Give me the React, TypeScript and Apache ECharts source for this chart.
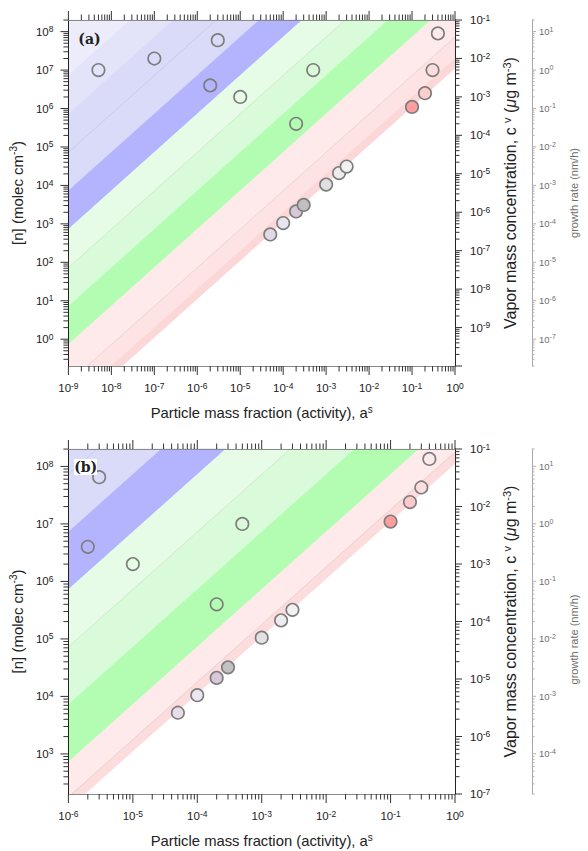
import React, { useEffect, useRef } from 'react';
import * as echarts from 'echarts';

// conversion factors between the three vertical scales
const VAPOR_PER_N = 4.98e-10; // µg m^-3 per molec cm^-3
const GR_PER_VAPOR = 200; // nm/h per µg m^-3

const xRangeA = [1e-9, 1];
const vaporRangeA = [1e-10, 1e-1];
const xRangeB = [1e-6, 1];
const vaporRangeB = [1e-7, 1e-1];

// panel (a) points
const actA = [5e-9, 1e-7, 3e-6, 2e-6, 1e-5, 2e-4, 5e-4, 0.4, 0.3, 0.2, 0.1, 5e-5, 1e-4, 2e-4, 3e-4, 1e-3, 2e-3, 3e-3];
const nA = [1e7, 2e7, 6e7, 4e6, 2e6, 4e5, 1e7, 9e7, 1e7, 2.5e6, 1.1e6, 5.3e2, 1.05e3, 2.1e3, 3.1e3, 1.05e4, 2.1e4, 3.1e4];
const fillA = [
  'rgba(0,0,0,0)', 'rgba(0,0,0,0)', 'rgba(0,0,0,0)', 'rgba(0,0,0,0)', 'rgba(0,0,0,0)', 'rgba(0,0,0,0)', 'rgba(0,0,0,0)',
  'rgba(0,0,0,0)', '#fcdcdc', '#fccfcf', '#ff9e9e',
  '#e2d9e6', '#e9e5ee', '#d7c9da', '#c0c0c0', '#e0e0e0', '#ececec', '#f2f2f2',
];

// panel (b) points
const actB = [3e-6, 2e-6, 1e-5, 5e-4, 2e-4, 0.4, 0.3, 0.2, 0.1, 5e-5, 1e-4, 2e-4, 3e-4, 1e-3, 2e-3, 3e-3];
const nB = [6.5e7, 4e6, 2e6, 1e7, 4e5, 1.35e8, 4.3e7, 2.4e7, 1.1e7, 5.2e3, 1.05e4, 2.1e4, 3.2e4, 1.05e5, 2.1e5, 3.2e5];
const fillB = [
  'rgba(0,0,0,0)', 'rgba(0,0,0,0)', 'rgba(0,0,0,0)', 'rgba(0,0,0,0)', 'rgba(0,0,0,0)',
  'rgba(0,0,0,0)', '#fbdede', '#fccaca', '#ff9e9e',
  '#e6dcea', '#ebe6ef', '#d8c8dc', '#c2c2c2', '#e2e2e2', '#ededed', '#f2f2f2',
];

// band boundaries, log10([n]/a)
const bandUpperA = [30, 15.86, 14.86, 12.86, 11.86, 10.86, 9.86, 8.86, 7.86, 7.3];
const bandLowerA = [15.86, 14.86, 12.86, 11.86, 10.86, 9.86, 8.86, 7.86, 7.3, 7.05];
const bandColorA = ['#ececfb', '#e3e3fa', '#dadaf9', '#b3b3fe', '#e6fce6', '#dafbda', '#b3fdb3', '#feeaea', '#fde3e3', '#fbd7d7'];
const faintLinesA = [13.86, 10.86, 7.86];

const bandUpperB = [30, 15.86, 14.86, 12.86, 11.86, 10.86, 9.86, 8.86, 8.25];
const bandLowerB = [15.86, 14.86, 12.86, 11.86, 10.86, 9.86, 8.86, 8.25, 8.05];
const bandColorB = ['#ececfb', '#e3e3fa', '#dadaf9', '#b3b3fe', '#e6fce6', '#dafbda', '#b3fdb3', '#feeaea', '#fcdcdc'];
const faintLinesB = [13.86, 10.86, 8.25];

const FONT = 'Liberation Sans, Arial, sans-serif';

function clipHalf(poly: number[][], f: (p: number[]) => number) {
  const out: number[][] = [];
  const n = poly.length;
  for (let i = 0; i < n; i++) {
    const cur = poly[i];
    const prev = poly[(i - 1 + n) % n];
    const fc = f(cur);
    const fp = f(prev);
    const inter = () => {
      const t = fp / (fp - fc);
      return [prev[0] + t * (cur[0] - prev[0]), prev[1] + t * (cur[1] - prev[1])];
    };
    if (fc >= 0) {
      if (fp < 0) out.push(inter());
      out.push(cur);
    } else if (fp >= 0) {
      out.push(inter());
    }
  }
  return out;
}

function bandSeries(xIdx: number, yIdx: number, xr: number[], yr: number[], uppers: number[], lowers: number[], colors: string[], lines: number[]) {
  return {
    type: 'custom',
    xAxisIndex: xIdx,
    yAxisIndex: yIdx,
    silent: true,
    z: 1,
    data: [[xr[0], yr[0]]],
    renderItem: (params: any, api: any) => {
      const lx0 = Math.log10(xr[0]), lx1 = Math.log10(xr[1]);
      const ly0 = Math.log10(yr[0]), ly1 = Math.log10(yr[1]);
      const rect = [[lx0, ly0], [lx1, ly0], [lx1, ly1], [lx0, ly1]];
      const toPx = (p: number[]) => api.coord([Math.pow(10, p[0]), Math.pow(10, p[1])]);
      const children: any[] = [];
      uppers.forEach((u, i) => {
        let poly = clipHalf(rect, (p) => u - (p[1] - p[0]));
        poly = clipHalf(poly, (p) => p[1] - p[0] - lowers[i]);
        if (poly.length >= 3) {
          children.push({
            type: 'polygon',
            shape: { points: poly.map(toPx) },
            style: { fill: colors[i], stroke: colors[i], lineWidth: 0.6 },
          });
        }
      });
      lines.forEach((d) => {
        const s = Math.max(lx0, ly0 - d);
        const e = Math.min(lx1, ly1 - d);
        if (s < e) {
          children.push({
            type: 'polyline',
            shape: { points: [toPx([s, s + d]), toPx([e, e + d])] },
            style: { stroke: 'rgba(0,0,0,0.07)', lineWidth: 1, fill: 'none' },
          });
        }
      });
      return { type: 'group', children };
    },
  };
}

function logTicks(min: number, max: number) {
  const out: number[][] = [];
  for (let k = Math.floor(Math.log10(min)) - 1; k <= Math.ceil(Math.log10(max)); k++) {
    for (let m = 1; m <= 9; m++) {
      const v = m * Math.pow(10, k);
      if (v >= min * (1 - 1e-9) && v <= max * (1 + 1e-9)) out.push([v, m === 1 ? 1 : 0]);
    }
  }
  return out;
}

function tickSeries(xIdx: number, yIdx: number, side: string, range: number[], ref: number, len: number[], color: string, offset = 0) {
  const ticks = logTicks(range[0], range[1]);
  const horizontal = side === 'bottom' || side === 'top';
  return {
    type: 'custom',
    xAxisIndex: xIdx,
    yAxisIndex: yIdx,
    silent: true,
    clip: false,
    z: 6,
    data: ticks.map((t) => (horizontal ? [t[0], ref, t[1]] : [ref, t[0], t[1]])),
    renderItem: (params: any, api: any) => {
      const cs = params.coordSys;
      const L = api.value(2) === 1 ? len[0] : len[1];
      const p = api.coord([api.value(0), api.value(1)]);
      let x1, y1, x2, y2;
      if (side === 'bottom') {
        x1 = x2 = p[0]; y1 = cs.y + cs.height; y2 = y1 + L;
      } else if (side === 'top') {
        x1 = x2 = p[0]; y1 = cs.y; y2 = y1 - L;
      } else if (side === 'left') {
        y1 = y2 = p[1]; x1 = cs.x; x2 = x1 - L;
      } else {
        y1 = y2 = p[1]; x1 = cs.x + cs.width + offset; x2 = x1 + L;
      }
      return { type: 'line', shape: { x1, y1, x2, y2 }, style: { stroke: color, lineWidth: 1 } };
    },
  };
}

const decadeFmt = (v: number) => {
  const l = Math.log10(v);
  const e = Math.round(l);
  if (Math.abs(l - e) > 1e-6) return '';
  return `{b|10}{s|${e}}`;
};

const darkRich = {
  b: { fontSize: 11.5, lineHeight: 14, color: '#222', fontFamily: FONT },
  s: { fontSize: 8.5, lineHeight: 6, verticalAlign: 'top', color: '#222', fontFamily: FONT },
};
const grayRich = {
  b: { fontSize: 9.5, lineHeight: 12, color: '#6e6e6e', fontFamily: FONT },
  s: { fontSize: 7, lineHeight: 5, verticalAlign: 'top', color: '#6e6e6e', fontFamily: FONT },
};

function xAxes(grid: number, xr: number[]) {
  return [
    {
      gridIndex: grid, type: 'log', position: 'bottom', min: xr[0], max: xr[1], z: 5,
      axisLine: { show: true, onZero: false, lineStyle: { color: '#8a8a8a', width: 1 } },
      axisTick: { show: false }, splitLine: { show: false }, minorTick: { show: false },
      axisLabel: { formatter: decadeFmt, rich: darkRich, margin: 15 },
      name: '{t|Particle mass fraction (activity), a}{s|s}',
      nameLocation: 'middle', nameGap: 38,
      nameTextStyle: {
        rich: {
          t: { fontSize: 14.8, lineHeight: 18, color: '#222', fontFamily: FONT },
          s: { fontSize: 10, lineHeight: 8, verticalAlign: 'top', color: '#222', fontFamily: FONT },
        },
      },
    },
    {
      gridIndex: grid, type: 'log', position: 'top', min: xr[0], max: xr[1], z: 5,
      axisLine: { show: true, onZero: false, lineStyle: { color: '#8a8a8a', width: 1 } },
      axisTick: { show: false }, splitLine: { show: false }, axisLabel: { show: false },
    },
  ];
}

function yAxes(grid: number, vr: number[], grOffset: number, grPad: number[]) {
  const nr = vr.map((v) => v / VAPOR_PER_N);
  const gr = vr.map((v) => v * GR_PER_VAPOR);
  return [
    {
      gridIndex: grid, type: 'log', position: 'left', min: nr[0], max: nr[1], z: 5,
      axisLine: { show: true, onZero: false, lineStyle: { color: '#222', width: 1 } },
      axisTick: { show: false }, splitLine: { show: false },
      axisLabel: { formatter: decadeFmt, rich: darkRich, margin: 15 },
      name: '{t|[n] (molec cm}{s|-3}{t|)}',
      nameLocation: 'middle', nameRotate: 90, nameGap: 31,
      nameTextStyle: {
        rich: {
          t: { fontSize: 15, lineHeight: 19, color: '#222', fontFamily: FONT },
          s: { fontSize: 10, lineHeight: 8, verticalAlign: 'top', color: '#222', fontFamily: FONT },
        },
      },
    },
    {
      gridIndex: grid, type: 'log', position: 'right', min: vr[0], max: vr[1], z: 5,
      axisLine: { show: true, onZero: false, lineStyle: { color: '#222', width: 1 } },
      axisTick: { show: false }, splitLine: { show: false },
      axisLabel: { formatter: decadeFmt, rich: darkRich, margin: 15, showMinLabel: grid === 1 },
      name: '{t|Vapor mass concentration, c }{s|v}{t| (}{i|μ}{t|g m}{s|-3}{t|)}',
      nameLocation: 'middle', nameRotate: 90, nameGap: 45,
      nameTextStyle: {
        rich: {
          t: { fontSize: 16, lineHeight: 19, color: '#222', fontFamily: FONT },
          i: { fontSize: 16, lineHeight: 19, color: '#222', fontFamily: FONT, fontStyle: 'italic' },
          s: { fontSize: 11, lineHeight: 8, verticalAlign: 'top', color: '#222', fontFamily: FONT },
        },
      },
    },
    {
      gridIndex: grid, type: 'log', position: 'right', offset: grOffset, min: gr[0], max: gr[1], z: 5,
      axisLine: { show: true, onZero: false, lineStyle: { color: '#a8a8a8', width: 1 } },
      axisTick: { show: false }, splitLine: { show: false },
      axisLabel: { formatter: decadeFmt, rich: grayRich, margin: 7 },
      name: 'growth rate (nm/h)',
      nameLocation: 'middle', nameRotate: 90, nameGap: 35,
      nameTextStyle: { fontSize: 11, lineHeight: 13, color: '#6e6e6e', fontFamily: FONT, padding: grPad },
    },
  ];
}

function scatterSeries(xIdx: number, yIdx: number, act: number[], n: number[], fills: string[]) {
  return {
    type: 'scatter', xAxisIndex: xIdx, yAxisIndex: yIdx, z: 3, silent: true,
    symbol: 'circle', symbolSize: 12.5,
    itemStyle: { borderColor: '#7d7d7d', borderWidth: 1.6, opacity: 1 },
    data: act.map((a, i) => ({ value: [a, n[i]], itemStyle: { color: fills[i] } })),
  };
}

const GR_OFFSET = 77;

function buildOption() {
  const nrA = vaporRangeA.map((v) => v / VAPOR_PER_N);
  const nrB = vaporRangeB.map((v) => v / VAPOR_PER_N);
  const grA = vaporRangeA.map((v) => v * GR_PER_VAPOR);
  const grB = vaporRangeB.map((v) => v * GR_PER_VAPOR);
  const tickDark = '#333';
  return {
    animation: false,
    backgroundColor: '#fff',
    grid: [
      { left: 66, top: 20, width: 401, height: 346 },
      { left: 62, top: 449, width: 401, height: 345 },
    ],
    xAxis: [...xAxes(0, xRangeA), ...xAxes(1, xRangeB)],
    yAxis: [...yAxes(0, vaporRangeA, GR_OFFSET, [0, 0, 0, 0]), ...yAxes(1, vaporRangeB, GR_OFFSET, [0, 36, 0, 0])],
    graphic: [
      {
        type: 'text', x: 89.5, y: 38.5, z: 10,
        style: { text: '(a)', font: 'bold 14px "DejaVu Serif", serif', fill: '#222', align: 'center', verticalAlign: 'middle' },
      },
      { type: 'rect', shape: { x: 74, y: 459, width: 23, height: 16 }, style: { fill: '#fff' }, z: 9 },
      {
        type: 'text', x: 85.7, y: 467, z: 10,
        style: { text: '(b)', font: 'bold 14px "DejaVu Serif", serif', fill: '#222', align: 'center', verticalAlign: 'middle' },
      },
    ],
    series: [
      bandSeries(0, 0, xRangeA, nrA, bandUpperA, bandLowerA, bandColorA, faintLinesA),
      scatterSeries(0, 0, actA, nA, fillA),
      tickSeries(0, 0, 'bottom', xRangeA, nrA[0], [9, 5.5], tickDark),
      tickSeries(0, 0, 'top', xRangeA, nrA[0], [9, 5.5], tickDark),
      tickSeries(0, 0, 'left', nrA, xRangeA[0], [8, 5], tickDark),
      tickSeries(0, 1, 'right', vaporRangeA, xRangeA[0], [7, 4.5], tickDark),
      tickSeries(0, 2, 'right', grA, xRangeA[0], [4, 2.5], '#b0b0b0', GR_OFFSET),

      bandSeries(2, 3, xRangeB, nrB, bandUpperB, bandLowerB, bandColorB, faintLinesB),
      scatterSeries(2, 3, actB, nB, fillB),
      tickSeries(2, 3, 'bottom', xRangeB, nrB[0], [9, 5.5], tickDark),
      tickSeries(2, 3, 'top', xRangeB, nrB[0], [9, 5.5], tickDark),
      tickSeries(2, 3, 'left', nrB, xRangeB[0], [8, 5], tickDark),
      tickSeries(2, 4, 'right', vaporRangeB, xRangeB[0], [7, 4.5], tickDark),
      tickSeries(2, 5, 'right', grB, xRangeB[0], [4, 2.5], '#b0b0b0', GR_OFFSET),
    ],
  };
}

export default function App() {
  const ref = useRef<HTMLDivElement>(null);
  useEffect(() => {
    document.body.style.margin = '0';
    document.body.style.overflow = 'hidden';
    const chart = echarts.init(ref.current as HTMLDivElement, undefined, { renderer: 'svg' });
    chart.setOption(buildOption() as any);
    return () => chart.dispose();
  }, []);
  return <div ref={ref} style={{ width: 588, height: 851 }} />;
}
